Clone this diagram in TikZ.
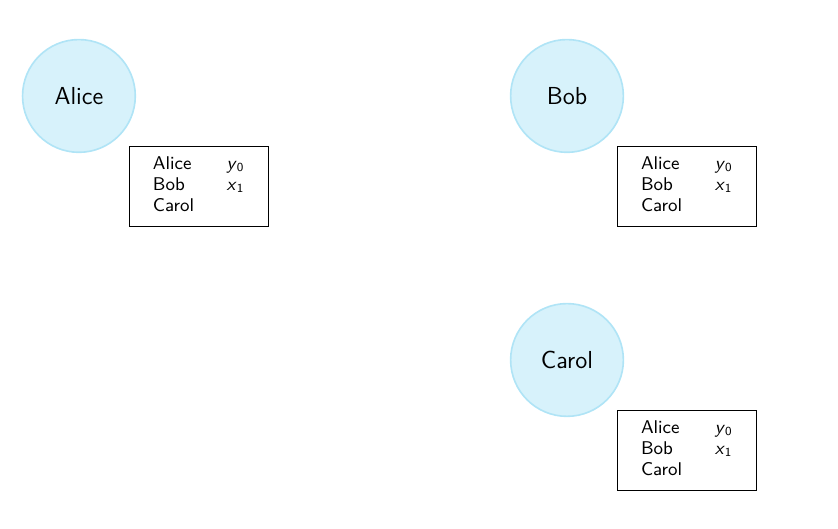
\documentclass[tikz,border=0pt]{standalone}
\usepackage{tikz}
\usetikzlibrary{positioning}
\definecolor{personfill}{RGB}{215,242,251}
\definecolor{personline}{RGB}{176,228,246}
\newcommand{\knownlist}{%
  \renewcommand{\arraystretch}{0.94}%
  \begin{tabular}{@{}p{36pt}@{}l@{}}
    Alice & \textit{y}\textsubscript{0}\\
    Bob   & \textit{x}\textsubscript{1}\\
    Carol &
  \end{tabular}}

\begin{document}
\begin{tikzpicture}[x=1pt, y=1pt, every node/.style={font=\sffamily},
    person/.style={circle, draw=personline, fill=personfill, line width=0.8pt,
      minimum size=55pt, inner sep=0pt, font=\sffamily\large},
    knownbox/.style={draw, thin, minimum width=68pt, minimum height=39pt,
      inner sep=0pt, font=\sffamily\small}]
  \useasboundingbox (0,0) rectangle (408.8,-258);
  \foreach \who/\x/\y in {Alice/38.5/-46.8, Bob/276.6/-46.8, Carol/276.6/-175.6} {
    \node[person] (\who) at (\x,\y) {\who};
    \node[knownbox, below right=4.5pt and 4.5pt of \who.south east] (\who-list) {\knownlist};
    }
\end{tikzpicture}
\end{document}
